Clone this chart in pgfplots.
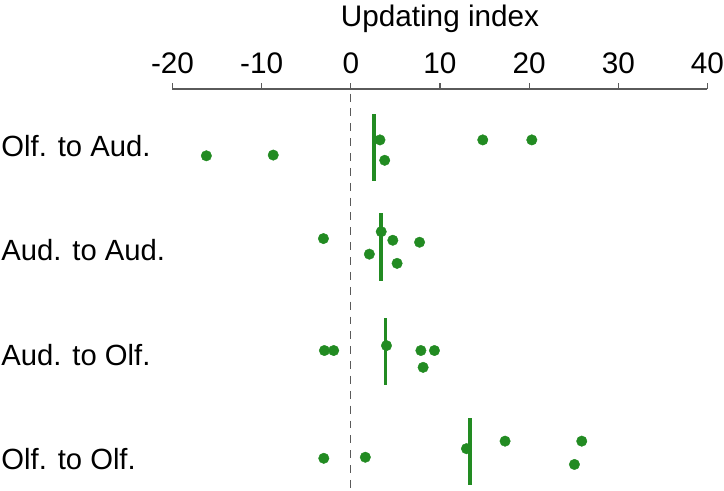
\documentclass[border=0pt]{standalone}
\usepackage{pgfplots}
\pgfplotsset{compat=1.18}
\usepackage{fontspec}
\setmainfont{Liberation Sans}
\definecolor{dotgreen}{RGB}{34,139,34}
\definecolor{axgray}{RGB}{90,90,90}
\begin{document}
\begin{tikzpicture}
\begin{axis}[
  scale only axis, width=540pt, height=404.7pt,
  xmin=-20, xmax=40, ymin=-0.542, ymax=3.294, y dir=reverse,
  axis x line*=top, axis y line*=left,
  x axis line style={-, draw=axgray, line width=1.3pt},
  y axis line style={draw=none},
  xtick={-20,-10,...,40},
  tick align=outside, major tick length=6pt,
  xtick style={draw=axgray, line width=1.3pt},
  ytick={0,1,2,3},
  yticklabels={Olf. to Aud., Aud. to Aud., Aud. to Olf., Olf. to Olf.},
  ytick style={draw=none},
  yticklabel style={anchor=west, inner ysep=0pt, inner xsep=1.5pt, xshift=-168.3pt, font=\fontsize{29.5}{34}\selectfont},
  xticklabel style={font=\fontsize{30}{36}\selectfont, inner xsep=0pt, yshift=6pt},
  /pgf/number format/assume math mode=true,
  xlabel={Updating index},
  xlabel style={font=\fontsize{30}{36}\selectfont, at={(axis description cs:0.5,1)}, anchor=base, inner xsep=0pt, inner ysep=5.5pt, yshift=62.6pt},
  clip=false,
]
% zero reference line
\addplot[axgray, line width=1.3pt, dash pattern=on 8pt off 7pt] coordinates {(0,-0.498) (0,3.294)};
% means
\addplot[dotgreen, line width=4pt] coordinates {(2.63,-0.299) (2.63,0.339)};
\addplot[dotgreen, line width=4pt] coordinates {(3.34,0.649) (3.34,1.291)};
\addplot[dotgreen, line width=4pt] coordinates {(3.89,1.651) (3.89,2.292)};
\addplot[dotgreen, line width=4pt] coordinates {(13.33,2.608) (13.33,3.249)};
% individual points
\addplot[only marks, mark=*, mark size=5.3pt, dotgreen, mark options={draw=none, fill=dotgreen}] coordinates {
  (-16.2,0.097) (-8.7,0.090) (3.27,-0.055) (3.8,0.140) (14.8,-0.055) (20.3,-0.055)
  (-3.07,0.889) (3.41,0.823) (4.71,0.905) (7.71,0.924) (2.08,1.038) (5.19,1.126)
  (-2.96,1.960) (-1.92,1.960) (4.0,1.913) (7.86,1.960) (9.38,1.960) (8.11,2.121)
  (-3.03,2.991) (1.63,2.981) (12.97,2.899) (17.3,2.827) (25.9,2.827) (25.08,3.050)
};
\end{axis}
\end{tikzpicture}
\end{document}
